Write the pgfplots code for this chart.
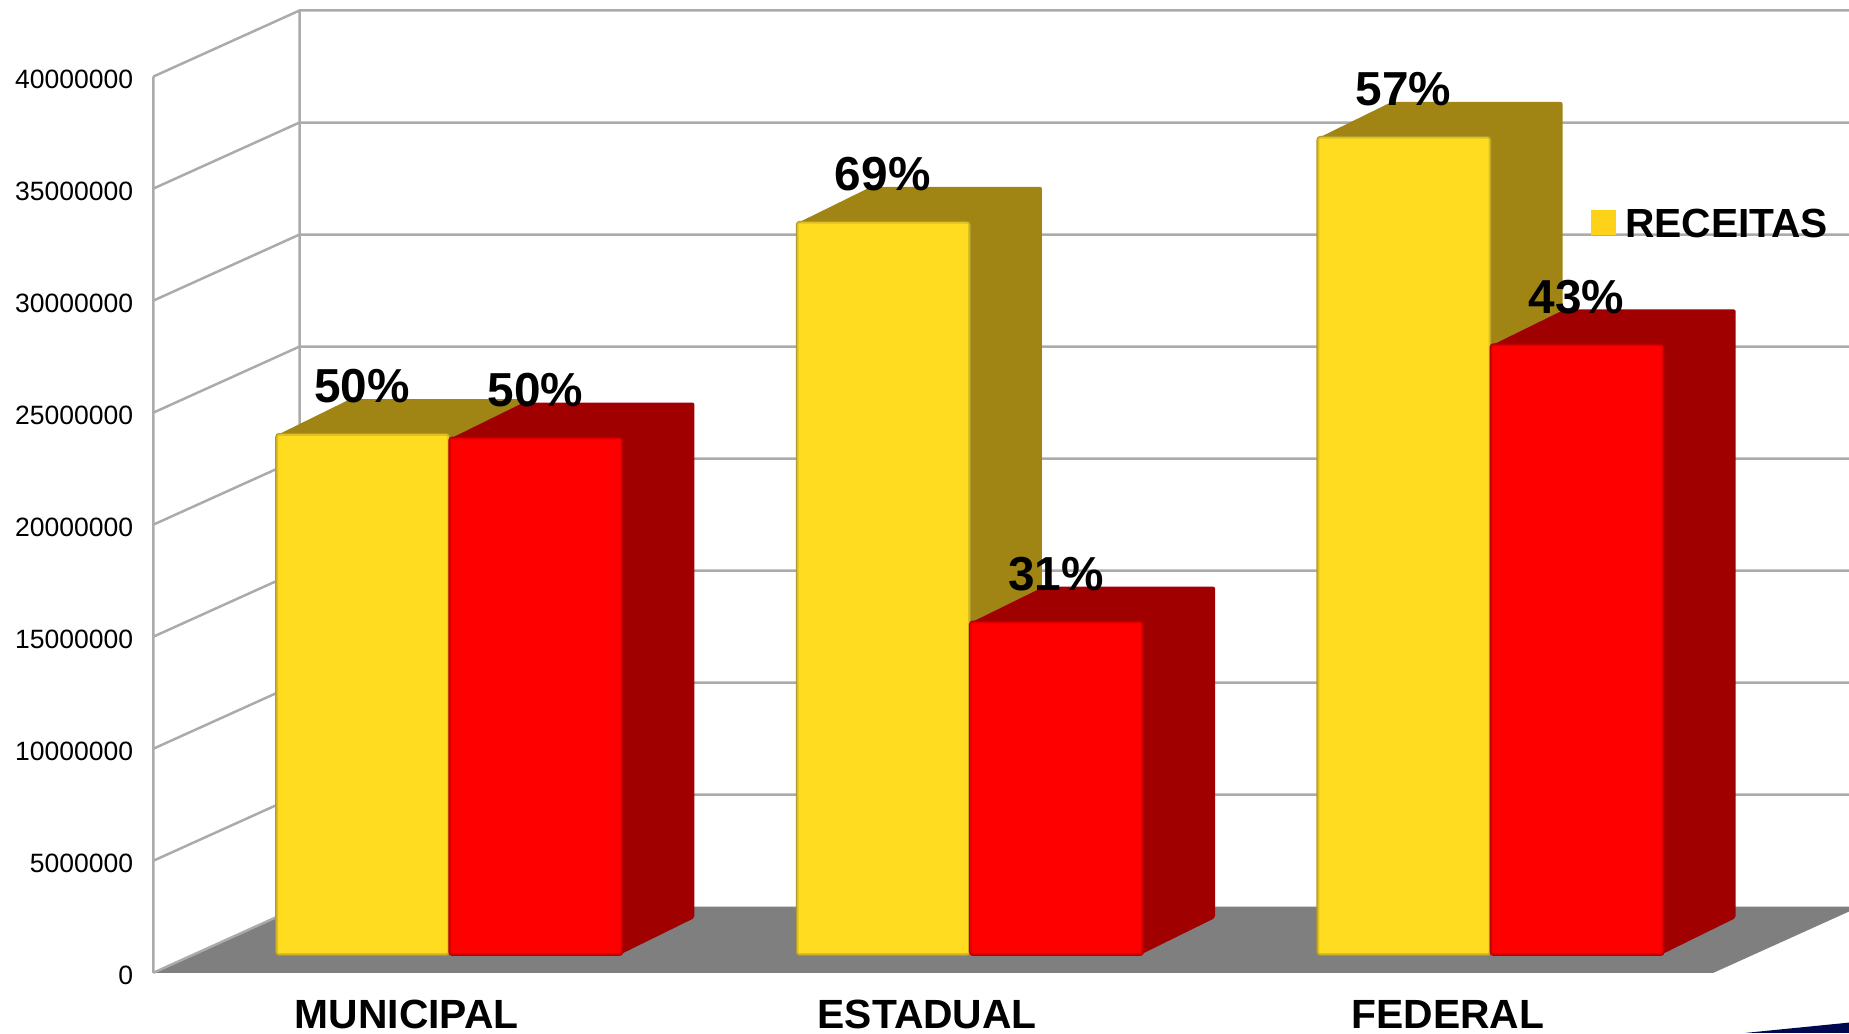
\documentclass[border=0pt]{standalone}
\usepackage{fontspec}
\setmainfont{Liberation Sans}
\usepackage{pgfplots}
\pgfplotsset{compat=1.18}
\definecolor{yfront}{HTML}{FFDC20}
\definecolor{yedge}{HTML}{E0C020}
\definecolor{yedgeb}{HTML}{AE9A28}
\definecolor{yside}{HTML}{A08514}
\definecolor{rfront}{HTML}{FF0000}
\definecolor{redge}{HTML}{E00000}
\definecolor{redgeb}{HTML}{B00000}
\definecolor{rside}{HTML}{A00000}
\definecolor{floorc}{HTML}{7F7F7F}
\definecolor{gridc}{HTML}{ABABAB}
\definecolor{legc}{HTML}{FFD21A}
\definecolor{navyc}{HTML}{00084F}
\pgfplotsset{
  face/.style={fill=#1,draw=none,forget plot,yshift=18.87pt,rounded corners=2pt},
  pct/.style={nodes near coords,point meta=explicit symbolic,
    every node near coord/.append style={anchor=center,inner sep=0pt,xshift=#1,yshift=48.5pt,text=black,
      font=\fontsize{47.7}{50}\selectfont\bfseries}},
}
\begin{document}
\begin{tikzpicture}
\path[use as bounding box,clip] (0,0) rectangle (1849pt,1033pt);
\begin{axis}[
  at={(153.3pt,60.2pt)},anchor=south west,
  scale only axis,width=1560.1pt,height=896.2pt,
  xmin=-0.48471,xmax=2.51189,ymin=0,ymax=40000000,
  clip=false,unbounded coords=jump,
  axis line style={draw=none},
  major tick length=0pt,
  xtick={0,1,2},xticklabels={MUNICIPAL,ESTADUAL,FEDERAL},
  ytick={0,5000000,10000000,15000000,20000000,25000000,30000000,35000000,40000000},
  scaled y ticks=false,
  yticklabel style={/pgf/number format/fixed,/pgf/number format/1000 sep={},
    /pgf/number format/assume math mode=true,
    font=\fontsize{26.5}{28}\selectfont,inner sep=0pt,xshift=-20pt,yshift=-3pt},
  xticklabel style={font=\fontsize{40.8}{42}\selectfont\bfseries,anchor=north,inner sep=0pt,xshift=1pt,yshift=-27.5pt},
  legend style={draw=none,fill=none,at={(axis description cs:0.9217,0.829)},anchor=west,
    font=\fontsize{40.7}{42}\selectfont\bfseries,inner sep=0pt,nodes={inner sep=3pt}},
  legend cell align=left,
]
% floor
\addplot[fill=floorc,draw=none,forget plot] coordinates {(-0.48471,0)(2.51189,0)(2.7928,2950000)(-0.20385,2950000)};
% corner wedge
\addplot[fill=navyc,draw=none,forget plot] coordinates {(2.573,-2684000)(2.8,-2158000)(2.8,-2684000)};
% walls and gridlines
\addplot[gridc,line width=2.5pt,forget plot] coordinates {
 (-0.48471,0)(-0.48471,40000000) (nan,nan)
 (-0.20385,2950000)(-0.20385,42950000) (nan,nan)
 (-0.48471,0)(-0.20385,2950000) (nan,nan)
 (-0.48471,5000000)(-0.20385,7950000)(2.8,7950000) (nan,nan)
 (-0.48471,10000000)(-0.20385,12950000)(2.8,12950000) (nan,nan)
 (-0.48471,15000000)(-0.20385,17950000)(2.8,17950000) (nan,nan)
 (-0.48471,20000000)(-0.20385,22950000)(2.8,22950000) (nan,nan)
 (-0.48471,25000000)(-0.20385,27950000)(2.8,27950000) (nan,nan)
 (-0.48471,30000000)(-0.20385,32950000)(2.8,32950000) (nan,nan)
 (-0.48471,35000000)(-0.20385,37950000)(2.8,37950000) (nan,nan)
 (-0.48471,40000000)(-0.20385,42950000)(2.8,42950000)
};
% yellow depth faces
\addplot[face=yside] coordinates {(-0.2467,23160000)(-0.1062,24765000)(0.2222,24765000)(0.2222,1605000)(0.0817,0)(0.0817,23160000)};
\addplot[face=yside] coordinates {(0.7533,32630000)(0.8938,34235000)(1.2222,34235000)(1.2222,1605000)(1.0817,0)(1.0817,32630000)};
\addplot[face=yside] coordinates {(1.7533,36420000)(1.8938,38025000)(2.2222,38025000)(2.2222,1605000)(2.0817,0)(2.0817,36420000)};
% yellow fronts
\addplot[ybar,bar width=0.3284,bar shift=-0.0825,fill=yfront,
  preaction={draw=yedgeb,line width=4pt},draw=yedge,line width=1.6pt,
  rounded corners=2pt,yshift=18.87pt,forget plot,pct=-43.6pt]
  coordinates {(0,23160000)[50\%] (1,32630000)[69\%] (2,36420000)[57\%]};
% red depth faces
\addplot[face=rside] coordinates {(0.0858,23000000)(0.2263,24605000)(0.5547,24605000)(0.5547,1605000)(0.4142,0)(0.4142,23000000)};
\addplot[face=rside] coordinates {(1.0858,14790000)(1.2263,16395000)(1.5547,16395000)(1.5547,1605000)(1.4142,0)(1.4142,14790000)};
\addplot[face=rside] coordinates {(2.0858,27160000)(2.2263,28765000)(2.5547,28765000)(2.5547,1605000)(2.4142,0)(2.4142,27160000)};
% red fronts
\addplot[ybar,bar width=0.3284,bar shift=0.25,fill=rfront,
  preaction={draw=redgeb,line width=4pt},draw=redge,line width=1.6pt,
  rounded corners=2pt,yshift=18.87pt,forget plot,pct=129.7pt]
  coordinates {(0,23000000)[50\%] (1,14790000)[31\%] (2,27160000)[43\%]};
\addlegendimage{legend image code/.code={\path[draw=none] (0pt,-29.2pt) rectangle (30.6pt,-4.4pt);\fill[legc,draw=none,overlay] (0pt,-10.9pt) rectangle (24.8pt,13.9pt);}}
\addlegendentry{RECEITAS}
\end{axis}
\end{tikzpicture}
\end{document}
